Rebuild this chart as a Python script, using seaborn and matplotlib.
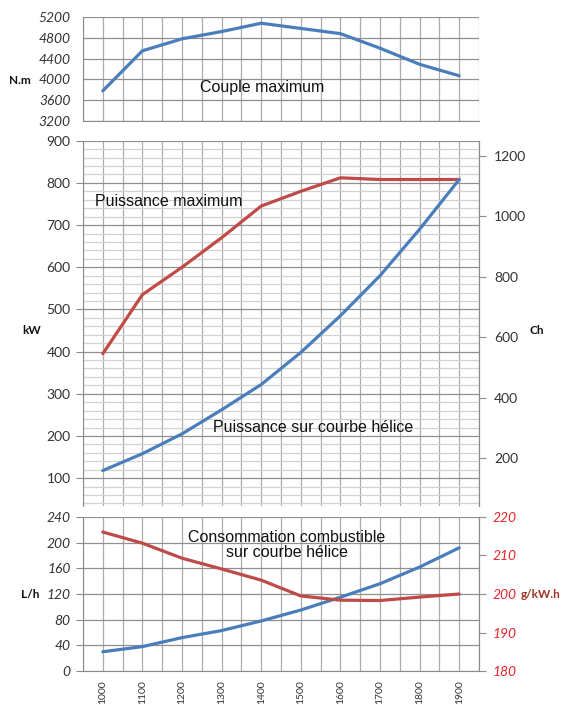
import numpy as np
import pandas as pd
import matplotlib
matplotlib.use("Agg")
import matplotlib.pyplot as plt
import seaborn as sns
from matplotlib.ticker import FixedLocator, MultipleLocator

# Engine speed (tr/min)
rpm = [1000, 1100, 1200, 1300, 1400, 1500, 1600, 1700, 1800, 1900]
rpm_labels = ["1000", "1100", "1200", "1300", "1400", "1500", "1600", "1700", "1800", "1900"]

# Couple maximum (N.m)
couple_max = [3780, 4550, 4780, 4920, 5080, 4980, 4880, 4600, 4290, 4070]
# Puissance maximum (kW)
puissance_max = [395, 535, 600, 670, 745, 780, 812, 808, 808, 808]
# Puissance sur courbe hélice (kW)
puissance_helice = [118, 158, 205, 262, 322, 398, 485, 580, 690, 808]
# Consommation sur courbe hélice (L/h)
conso_lh = [30, 38, 52, 63, 78, 95, 115, 136, 162, 192]
# Consommation spécifique (g/kW.h)
conso_specifique = [216.1, 213.2, 209.3, 206.5, 203.6, 199.5, 198.4, 198.3, 199.2, 200.0]

df = pd.DataFrame({
    "rpm": rpm,
    "couple": couple_max,
    "pmax": puissance_max,
    "phelice": puissance_helice,
    "lh": conso_lh,
    "gkwh": conso_specifique,
})

sns.set_style("white")
plt.rcParams["font.family"] = ["Lato", "DejaVu Sans"]

BLUE = "#4A7EBB"
RED = "#BE4B48"
GRID_MAJ = "#909090"
GRID_V = "#ABABAB"
GRID_MIN = "#D2D2D2"
SPINE = "#8C8C8C"
LW = 2.3

W, H = 569, 705
fig = plt.figure(figsize=(W / 100, H / 100), dpi=100)


def box(l, t, r, b):
    return [l / W, 1 - b / H, (r - l) / W, (b - t) / H]


ax_top = fig.add_axes(box(83, 17, 479, 121))
ax_mid = fig.add_axes(box(83, 140.7, 479, 506))
ax_bot = fig.add_axes(box(83, 517, 479, 671))


def setup_x(ax, labels=False, ticks=False):
    ax.set_xlim(950, 1950)
    ax.xaxis.set_major_locator(FixedLocator(rpm))
    ax.xaxis.set_minor_locator(FixedLocator(np.arange(950, 1951, 100)))
    ax.grid(True, which="both", axis="x", color=GRID_V, linewidth=0.9)
    if labels:
        ax.set_xticklabels(rpm_labels, rotation=90, fontsize=7.5, color="#333333")
    else:
        ax.set_xticklabels([])
    ax.tick_params(axis="x", which="major", length=0, pad=7)
    ax.tick_params(axis="x", which="minor", length=5 if ticks else 0,
                   color=SPINE, width=0.9, direction="out")
    ax.set_axisbelow(True)


# ---- Couple maximum ----
sns.lineplot(data=df, x="rpm", y="couple", ax=ax_top, color=BLUE, linewidth=LW)
ax_top.set_ylim(3200, 5200)
ax_top.yaxis.set_major_locator(MultipleLocator(400))
ax_top.grid(True, which="major", axis="y", color=GRID_MAJ, linewidth=0.9)
setup_x(ax_top, labels=False, ticks=True)
for s in ["top", "right"]:
    ax_top.spines[s].set_visible(False)
for s in ["left", "bottom"]:
    ax_top.spines[s].set_color(SPINE)
ax_top.tick_params(axis="y", length=5, color=SPINE, direction="out", pad=4,
                   labelsize=10, labelcolor="#333333")
for t in ax_top.get_yticklabels():
    t.set_fontstyle("italic")
ax_top.set_xlabel("")
ax_top.set_ylabel("")
ax_top.text(1402, 3835, "Couple maximum", ha="center", va="center",
            fontsize=11.5, family="Liberation Sans", color="#111111")

# ---- Puissance ----
sns.lineplot(data=df, x="rpm", y="pmax", ax=ax_mid, color=RED, linewidth=LW)
sns.lineplot(data=df, x="rpm", y="phelice", ax=ax_mid, color=BLUE, linewidth=LW)
ax_mid.set_ylim(34, 900)
ax_mid.yaxis.set_major_locator(MultipleLocator(100))
ax_mid.yaxis.set_minor_locator(MultipleLocator(20))
ax_mid.grid(True, which="minor", axis="y", color=GRID_MIN, linewidth=0.9)
ax_mid.grid(True, which="major", axis="y", color=GRID_MAJ, linewidth=0.9)
setup_x(ax_mid, labels=False, ticks=False)
for s in ["top", "bottom"]:
    ax_mid.spines[s].set_visible(False)
for s in ["left", "right"]:
    ax_mid.spines[s].set_color(SPINE)
ax_mid.tick_params(axis="y", which="major", length=5, color=SPINE, direction="out",
                   pad=4, labelsize=10, labelcolor="#333333")
ax_mid.tick_params(axis="y", which="minor", length=0)
ax_mid.set_xlabel("")
ax_mid.set_ylabel("")

ax_ch = ax_mid.twinx()
ax_ch.set_ylim(42, 1250)
ax_ch.yaxis.set_major_locator(FixedLocator([200, 400, 600, 800, 1000, 1200]))
ax_ch.tick_params(axis="y", length=5, color=SPINE, direction="out", pad=6,
                  labelsize=10, labelcolor="#333333")
for s in ["top", "bottom", "left"]:
    ax_ch.spines[s].set_visible(False)
ax_ch.spines["right"].set_color(SPINE)

ax_mid.text(980, 755, "Puissance maximum", ha="left", va="center",
            fontsize=11.5, family="Liberation Sans", color="#111111")
ax_mid.text(1278, 221, "Puissance sur courbe hélice", ha="left", va="center",
            fontsize=11.5, family="Liberation Sans", color="#111111")

# ---- Consommation ----
sns.lineplot(data=df, x="rpm", y="lh", ax=ax_bot, color=BLUE, linewidth=LW)
ax_bot.set_ylim(0, 240)
ax_bot.yaxis.set_major_locator(MultipleLocator(40))
ax_bot.grid(True, which="major", axis="y", color=GRID_MAJ, linewidth=0.9)
setup_x(ax_bot, labels=True, ticks=True)
ax_bot.spines["top"].set_visible(False)
for s in ["left", "right", "bottom"]:
    ax_bot.spines[s].set_color(SPINE)
ax_bot.tick_params(axis="y", length=5, color=SPINE, direction="out", pad=4,
                   labelsize=10, labelcolor="#333333")
for t in ax_bot.get_yticklabels():
    t.set_fontstyle("italic")
ax_bot.set_xlabel("")
ax_bot.set_ylabel("")

ax_g = ax_bot.twinx()
sns.lineplot(data=df, x="rpm", y="gkwh", ax=ax_g, color=RED, linewidth=LW)
ax_g.set_ylim(180, 220)
ax_g.yaxis.set_major_locator(MultipleLocator(10))
ax_g.tick_params(axis="y", length=5, color=SPINE, direction="out", pad=5,
                 labelsize=10, labelcolor="#E8232A")
for t in ax_g.get_yticklabels():
    t.set_fontstyle("italic")
for s in ["top", "bottom", "left"]:
    ax_g.spines[s].set_visible(False)
ax_g.spines["right"].set_color(SPINE)
ax_g.set_xlim(950, 1950)
ax_g.set_xlabel("")
ax_g.set_ylabel("")

ax_bot.text(1464, 197, "Consommation combustible\nsur courbe hélice", ha="center",
            va="center", multialignment="center", linespacing=1.0,
            fontsize=11.5, family="Liberation Sans", color="#111111", zorder=5)

# ---- Unit labels ----
def unit(x, y, s, color="#111111", ha="center"):
    fig.text(x / W, 1 - y / H, s, ha=ha, va="center", fontsize=8.5,
             fontweight="bold", color=color)


unit(20, 80, "N.m")
unit(32, 331, "kW")
unit(537, 330, "Ch")
unit(30, 595, "L/h")
unit(521, 594, "g/kW.h", color="#9C3324", ha="left")

fig.savefig("out.png", dpi=100, facecolor="white")
